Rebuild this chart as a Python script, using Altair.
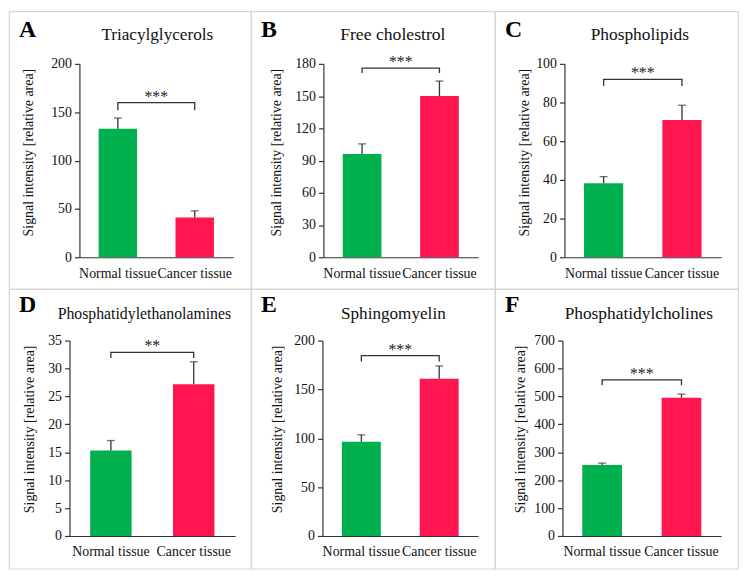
import altair as alt
import pandas as pd

categories = ["Normal tissue", "Cancer tissue"]
letters = ["A", "B", "C", "D", "E", "F"]
titles = ["Triacylglycerols", "Free cholestrol", "Phospholipids",
          "Phosphatidylethanolamines", "Sphingomyelin", "Phosphatidylcholines"]
means = [[133, 41], [96, 150], [38.3, 71], [15.3, 27.2], [96.5, 161], [254, 495]]
errors = [[11, 7], [9.5, 14], [3.4, 7.6], [1.8, 4.0], [7, 13], [7, 13]]
sig_labels = ["***", "***", "***", "**", "***", "***"]
bracket_top = [160, 176, 92, 32.9, 184.5, 559]
bracket_drop = [152, 171.5, 88.5, 31.9, 178.5, 540]
y_max = [200, 180, 100, 35, 200, 700]
y_step = [50, 30, 20, 5, 50, 100]
y_title = "Signal intensity [relative area]"

bar_colors = ["#00B04F", "#FF1550"]
FONT = "Liberation Serif, Times New Roman, Times, DejaVu Serif, serif"
INK = "#333333"

# layout per panel (pixels, within its cell)
cell_w = [244, 246, 245]
layout = [
    dict(left=71, width=155, tdx=1, ytx=-51, tfs=17.3),
    dict(left=73, width=156, tdx=-8, ytx=-47, tfs=17.8),
    dict(left=70, width=158, tdx=-3, ytx=-40, tfs=17.5),
    dict(left=61, width=167, tdx=-8, ytx=-40, tfs=15.9),
    dict(left=72, width=157, tdx=-7, ytx=-45, tfs=17.3),
    dict(left=68, width=160, tdx=-3, ytx=-42, tfs=17.5),
]
rows = [dict(cell_h=280, top=53, height=195, title_y=24, letter_y=26),
        dict(cell_h=282, top=52, height=197, title_y=25, letter_y=23)]


def panel(i):
    L = layout[i]
    R = rows[i // 3]
    CW, CH = cell_w[i % 3], R["cell_h"]
    left, W = L["left"], L["width"]
    top, H = R["top"], R["height"]
    df = pd.DataFrame({
        "cat": categories,
        "mean": means[i],
        "upper": [m + e for m, e in zip(means[i], errors[i])],
    })
    x_enc = alt.X("cat:N", sort=categories,
                  scale=alt.Scale(domain=categories, range=[left, left + W],
                                  paddingInner=0.5, paddingOuter=0.25),
                  axis=alt.Axis(title=None, labelAngle=0, ticks=False, labelPadding=9,
                                offset=-(CH - top - H),
                                labelFont=FONT, labelFontSize=14, labelColor="#111",
                                domainColor=INK, domainWidth=1.2))
    y_scale = alt.Scale(domain=[0, y_max[i]], range=[top + H, top], nice=False)
    y_axis = alt.Axis(title=y_title, values=list(range(0, y_max[i] + 1, y_step[i])),
                      offset=-left,
                      grid=False, tickSize=5, tickColor=INK, tickWidth=1.2,
                      domainColor=INK, domainWidth=1.2, labelPadding=3,
                      labelFont=FONT, labelFontSize=14, labelColor="#111",
                      titleFont=FONT, titleFontSize=14, titleFontWeight="normal",
                      titleColor="#111", titleX=L["ytx"], titleY=top + 89,
                      titleAngle=270, titleAlign="center", titleBaseline="middle")

    def yq(field):
        return alt.Y(f"{field}:Q", scale=y_scale, axis=y_axis)

    bars = alt.Chart(df).mark_bar().encode(
        x=x_enc, y=yq("mean"),
        color=alt.Color("cat:N", scale=alt.Scale(domain=categories, range=bar_colors), legend=None),
    )
    err = alt.Chart(df).mark_rule(color=INK, strokeWidth=1.3).encode(
        x=x_enc, y=yq("mean"), y2="upper:Q")
    cap = alt.Chart(df).mark_tick(color=INK, size=8, thickness=1.3).encode(
        x=x_enc, y=yq("upper"))

    bdf = pd.DataFrame({
        "cat": [categories[0], categories[0], categories[1], categories[1]],
        "v": [bracket_drop[i], bracket_top[i], bracket_top[i], bracket_drop[i]],
        "o": [0, 1, 2, 3],
    })
    bracket = alt.Chart(bdf).mark_line(color=INK, strokeWidth=1.3).encode(
        x=x_enc, y=yq("v"), order="o:Q")

    sdf = pd.DataFrame({"v": [bracket_top[i]]})
    stars = alt.Chart(sdf).mark_text(text=sig_labels[i], font=FONT, fontSize=16,
                                     color="#222", baseline="alphabetic", dy=-1).encode(
        x=alt.value(left + W / 2), y=yq("v"))

    one = pd.DataFrame({"k": [0]})
    title = alt.Chart(one).mark_text(text=titles[i], font=FONT, fontSize=L["tfs"], color="#111",
                                     baseline="middle", align="center").encode(
        x=alt.value(left + W / 2 + L["tdx"]), y=alt.value(R["title_y"]))
    letter = alt.Chart(one).mark_text(text=letters[i], font=FONT, fontSize=24, fontWeight="bold",
                                      color="#000", baseline="alphabetic", align="left").encode(
        x=alt.value(10), y=alt.value(R["letter_y"]))

    return alt.layer(bars, err, cap, bracket, stars, title, letter).properties(
        width=CW, height=CH)


chart = alt.concat(*[panel(i) for i in range(6)], columns=3, spacing=0,
                   bounds="flush", align="each").properties(
    padding=0, background="white"
).configure(font=FONT).configure_axis(
    labelFont=FONT, titleFont=FONT
).configure_view(stroke="#d6d6d6", strokeWidth=1.2)

chart.save("out.html", embed_options={"renderer": "svg", "actions": False})
